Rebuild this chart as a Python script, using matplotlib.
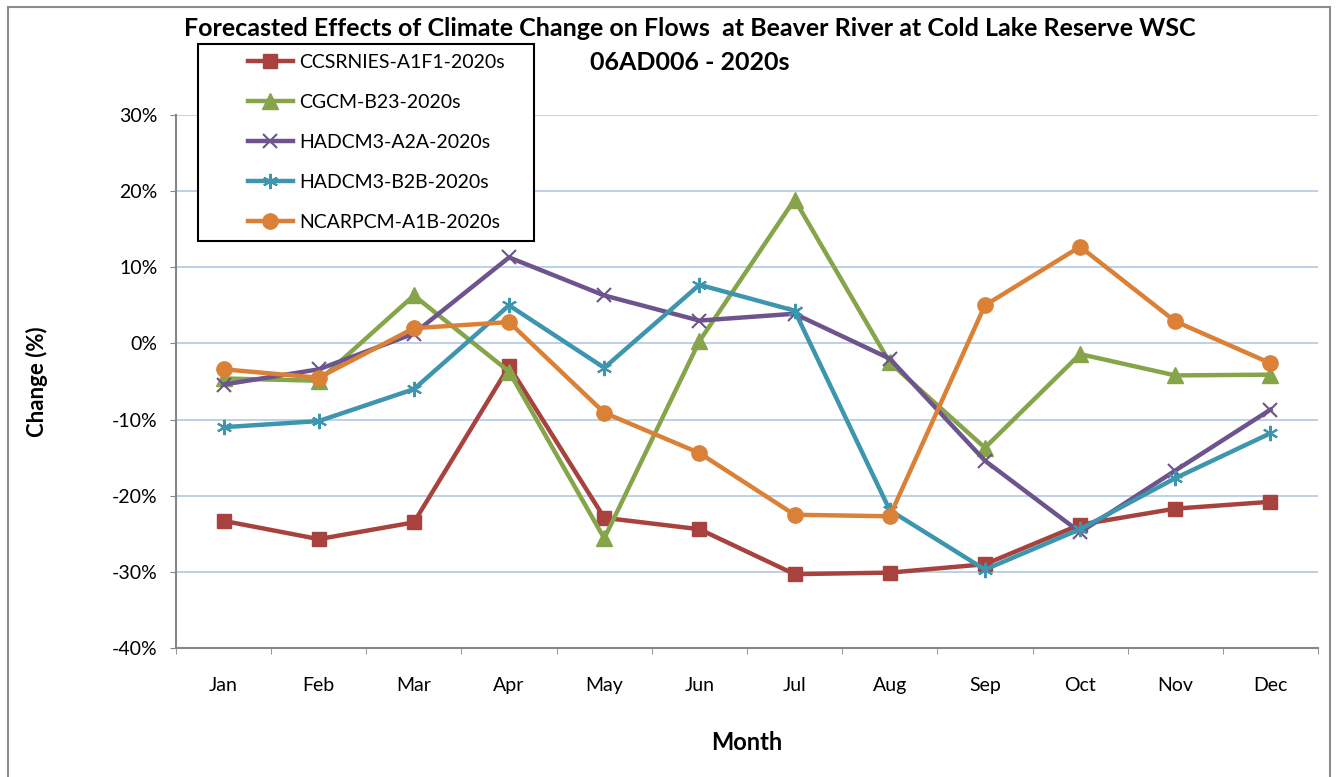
import matplotlib.pyplot as plt
from matplotlib.ticker import FixedLocator, FuncFormatter
from matplotlib.patches import Rectangle

plt.rcParams['font.family'] = ['Lato', 'DejaVu Sans']

months = ["Jan", "Feb", "Mar", "Apr", "May", "Jun",
          "Jul", "Aug", "Sep", "Oct", "Nov", "Dec"]

# change in flow (%) per month for each scenario
ccsrnies_a1f1 = [-23.3, -25.7, -23.5, -3.0, -22.9, -24.4, -30.3, -30.1, -29.0, -23.8, -21.7, -20.8]
cgcm_b23 = [-4.6, -4.9, 6.3, -3.7, -25.6, 0.3, 18.9, -2.5, -13.7, -1.4, -4.2, -4.1]
hadcm3_a2a = [-5.4, -3.4, 1.3, 11.3, 6.3, 3.0, 3.9, -2.0, -15.4, -24.8, -16.7, -8.7]
hadcm3_b2b = [-11.0, -10.2, -6.0, 5.0, -3.2, 7.7, 4.3, -21.9, -29.7, -24.4, -17.7, -11.8]
ncarpcm_a1b = [-3.4, -4.5, 2.0, 2.8, -9.1, -14.4, -22.5, -22.7, 5.0, 12.7, 2.9, -2.6]

series_names = ["CCSRNIES-A1F1-2020s", "CGCM-B23-2020s", "HADCM3-A2A-2020s",
                "HADCM3-B2B-2020s", "NCARPCM-A1B-2020s"]
yticks = [-40, -30, -20, -10, 0, 10, 20, 30]

W, H = 1338, 777
fig = plt.figure(figsize=(W / 100, H / 100), dpi=100)
ax = fig.add_axes([176 / W, 1 - 648 / H, 1142 / W, 533 / H])

# outer chart border
fig.patches.append(Rectangle((8 / W, -0.05), 1322 / W, 1.05 - 7 / H, transform=fig.transFigure,
                             fill=False, edgecolor='#8c8c8c', linewidth=1.5))

styles = [
    dict(color='#A8423F', marker='s', markersize=10),
    dict(color='#86A44A', marker='^', markersize=11),
    dict(color='#6E548D', marker='x', markersize=10, markeredgewidth=1.5),
    dict(color='#3D96AE', marker=(6, 2, 0), markersize=11, markeredgewidth=1.5),
    dict(color='#DA8137', marker='o', markersize=11),
]
data = [ccsrnies_a1f1, cgcm_b23, hadcm3_a2a, hadcm3_b2b, ncarpcm_a1b]
x = list(range(len(months)))
handles = []
for name, vals, st in zip(series_names, data, styles):
    ln, = ax.plot(x, vals, linewidth=3.2, label=name, **st)
    handles.append(ln)

ax.set_xlim(-0.5, 11.5)
ax.set_ylim(-40, 30)
ax.yaxis.set_major_locator(FixedLocator(yticks))
ax.yaxis.set_major_formatter(FuncFormatter(lambda v, p: f"{v:.0f}%"))
ax.set_xticks(x)
ax.set_xticklabels(months)
ax.set_xticks([i - 0.5 for i in range(13)], minor=True)
ax.tick_params(axis='x', which='major', length=0, pad=21, labelsize=14)
ax.tick_params(axis='x', which='minor', length=4.5, color='#868686', direction='out')
ax.tick_params(axis='y', length=4.5, color='#868686', direction='out', labelsize=14, pad=9)

ax.grid(axis='y', color='#B9CDE5', linewidth=1.3)
ax.set_axisbelow(True)
for s in ['top', 'right']:
    ax.spines[s].set_visible(False)
for s in ['left', 'bottom']:
    ax.spines[s].set_color('#868686')
    ax.spines[s].set_linewidth(1.5)

ax.set_ylabel("Change (%)", fontsize=16, fontweight='bold')
ax.yaxis.set_label_coords((37 - 176) / 1142, 0.5)
ax.set_xlabel("Month", fontsize=17, fontweight='bold')
ax.xaxis.set_label_coords(0.5, (648 - 743) / 533)
ax.xaxis.label.set_va('center')
ax.yaxis.label.set_va('center')

fig.text(690 / W, 1 - 28 / H, "Forecasted Effects of Climate Change on Flows  at Beaver River at Cold Lake Reserve WSC",
         ha='center', va='center', fontsize=18, fontweight='bold')
fig.text(690 / W, 1 - 62 / H, "06AD006 - 2020s", ha='center', va='center', fontsize=18, fontweight='bold')

# legend box drawn separately so the left inset can differ from the top inset
fig.patches.append(Rectangle((198 / W, 1 - 241 / H), 336 / W, 197 / H, transform=fig.transFigure,
                             fill=True, facecolor='white', edgecolor='black', linewidth=1.5, zorder=5))
leg = fig.legend(handles=handles, loc='upper left', bbox_to_anchor=(248 / W, 1 - 54 / H),
                 fontsize=14, frameon=False, labelspacing=1.18, handlelength=2.3,
                 borderpad=0, borderaxespad=0, handletextpad=0.35)
leg.set_zorder(6)

fig.savefig("out.png", dpi=100)
